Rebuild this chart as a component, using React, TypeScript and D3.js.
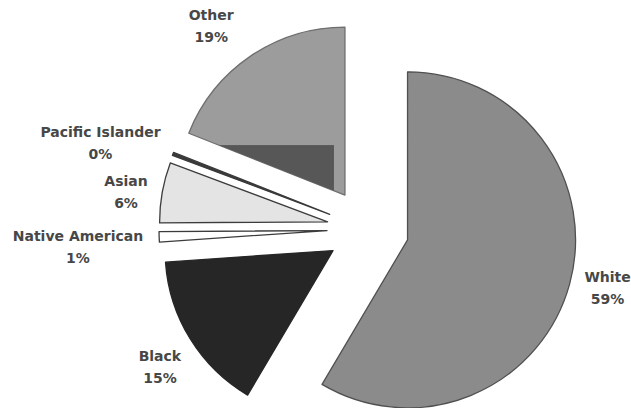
import React, { useEffect, useRef } from "react";
import * as d3 from "d3";

const categories = ["White", "Black", "Native American", "Asian", "Pacific Islander", "Other"];
const shares = [58.5, 15.4, 1.0, 5.8, 0.3, 19.0];
const fills = ["#8b8b8b", "#262626", "#ffffff", "#e4e4e4", "#3a3a3a", "#9c9c9c"];
const strokes = ["#505050", "#262626", "#3c3c3c", "#3c3c3c", "#3a3a3a", "#6e6e6e"];
// label nudges (collision / placement tweaks), in px
const labelNudgeX = [6, -3, -6, -5, -7, -21];
const labelNudgeY = [-4, 13, 9, 5, 0, -6];

export default function App() {
  const ref = useRef<SVGSVGElement>(null);
  useEffect(() => {
    const svg = d3.select(ref.current);
    svg.selectAll("*").remove();
    const cx = 368, cy = 229, R = 168, explode = 41, labelGap = 10, lineH = 22;
    const pie = d3.pie<number>().sort(null).value((d) => d);
    const arcs = pie(shares);
    const arc = d3.arc<d3.PieArcDatum<number>>().innerRadius(0).outerRadius(R);
    const fmt = d3.format(".0f");
    const defs = svg.append("defs");
    const g = svg.append("g").attr("transform", `translate(${cx},${cy})`);
    const labels = svg.append("g").attr("transform", `translate(${cx},${cy})`);

    arcs.forEach((a, i) => {
      const mid = (a.startAngle + a.endAngle) / 2;
      const ux = Math.sin(mid), uy = -Math.cos(mid);
      const ox = ux * explode, oy = uy * explode;
      const sg = g.append("g").attr("transform", `translate(${ox},${oy})`);
      sg.append("path")
        .attr("d", arc(a) as string)
        .attr("fill", fills[i])
        .attr("stroke", strokes[i])
        .attr("stroke-width", 1.3)
        .attr("stroke-linejoin", "round");
      if (categories[i] === "Other") {
        defs.append("clipPath").attr("id", "otherClip")
          .append("path").attr("d", arc(a) as string);
        sg.append("rect")
          .attr("x", -126).attr("y", -50).attr("width", 115).attr("height", 47)
          .attr("fill", "#575757")
          .attr("clip-path", "url(#otherClip)");
      }
      // label
      const t = labels.append("text")
        .attr("text-anchor", "middle")
        .attr("font-family", "DejaVu Sans, sans-serif")
        .attr("font-weight", "bold")
        .attr("font-size", 14)
        .attr("fill", "#474747");
      t.append("tspan").attr("x", 0).attr("dy", 0).text(categories[i]);
      t.append("tspan").attr("x", 0).attr("dy", lineH).text(fmt(shares[i]) + "%");
      const bb = (t.node() as SVGTextElement).getBBox();
      const px = ox + ux * (R + labelGap);
      const py = oy + uy * (R + labelGap);
      const ccx = px + (bb.width / 2) * ux + labelNudgeX[i];
      const ccy = py + (bb.height / 2) * uy + labelNudgeY[i];
      const bcx = bb.x + bb.width / 2, bcy = bb.y + bb.height / 2;
      t.attr("transform", `translate(${ccx - bcx},${ccy - bcy})`);
    });
  }, []);
  return (
    <svg
      ref={ref}
      width={631}
      height={408}
      style={{ position: "absolute", left: 0, top: 0, background: "#fff" }}
    />
  );
}
